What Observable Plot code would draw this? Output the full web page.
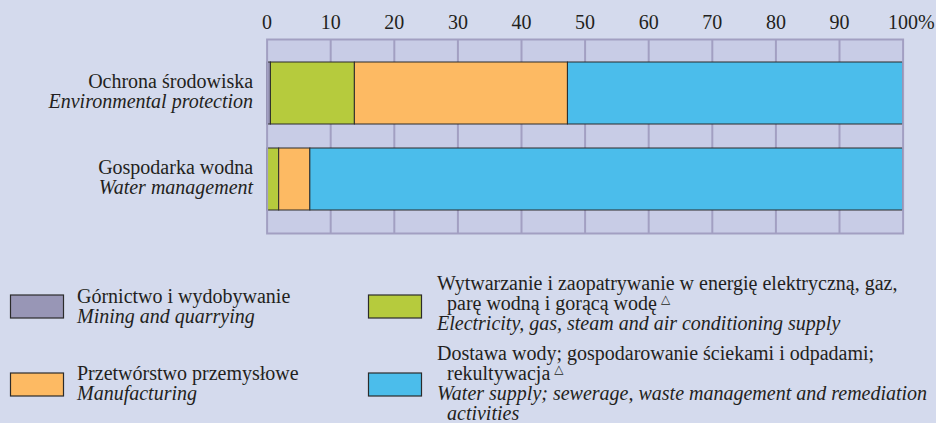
<!DOCTYPE html>
<html><head><meta charset="utf-8">
<script src="https://cdn.jsdelivr.net/npm/d3@7"></script>
<script src="https://cdn.jsdelivr.net/npm/@observablehq/plot@0.6"></script>
<style>
html,body{margin:0;padding:0;background:#d4daed;}
#chart{position:relative;width:936px;height:423px;overflow:hidden;}
#chart svg{display:block;font-family:"Liberation Serif",serif !important;}
#chart svg text{font-family:"Liberation Serif",serif !important;}
#chart svg tspan.tri{font-family:"DejaVu Sans",sans-serif !important;}
</style></head><body><div id="chart"></div>
<script>
// ---- data ----
const activities = ["Ochrona środowiska", "Gospodarka wodna"];
const activitiesEn = ["Environmental protection", "Water management"];
const sectors = ["Górnictwo i wydobywanie", "Wytwarzanie i zaopatrywanie w energię", "Przetwórstwo przemysłowe", "Dostawa wody"];
const miningValues = [0.6, 0];
const energyValues = [13.2, 1.9];
const manufacturingValues = [33.5, 4.9];
const waterValues = [52.7, 93.2];
const tickValues = [0, 10, 20, 30, 40, 50, 60, 70, 80, 90];
const tickLabels = ["0", "10", "20", "30", "40", "50", "60", "70", "80", "90"];
const lastTickValue = [100];
const lastTickLabel = ["100%"];
const gridValues = [10, 20, 30, 40, 50, 60, 70, 80, 90];
const sectorColors = ["#9896b6", "#b6cb3d", "#fdba63", "#4bbdeb"];
// legend texts
const legendPl = [
  ["Górnictwo i wydobywanie"],
  ["Wytwarzanie i zaopatrywanie w energię elektryczną, gaz,", "parę wodną i gorącą wodę"],
  ["Przetwórstwo przemysłowe"],
  ["Dostawa wody; gospodarowanie ściekami i odpadami;", "rekultywacja"]
];
const legendEn = [
  ["Mining and quarrying"],
  ["Electricity, gas, steam and air conditioning supply"],
  ["Manufacturing"],
  ["Water supply; sewerage, waste management and remediation", "activities"]
];
const legendMark = [false, true, false, true];

// ---- table ----
const seriesValues = [miningValues, energyValues, manufacturingValues, waterValues];
const rows = [];
activities.forEach((a, i) => sectors.forEach((s, j) => rows.push({activity: a, sector: s, value: seriesValues[j][i]})));

const font = "Liberation Serif";
const ink = "#231f20";
const gridColor = "#a29fc2";

const chart = Plot.plot({
  width: 936, height: 240,
  marginLeft: 266.6, marginRight: 33.4, marginTop: 39, marginBottom: 7,
  style: {background: "transparent", fontFamily: font, fontSize: "20px", color: ink, overflow: "visible"},
  x: {domain: [0, 100], axis: null},
  y: {domain: activities, axis: null, paddingInner: 0.28, paddingOuter: 0.26},
  color: {domain: sectors, range: sectorColors},
  marks: [
    Plot.frame({fill: "#c8cce6", stroke: "none"}),
    Plot.ruleX(gridValues, {stroke: gridColor, strokeWidth: 2}),
    Plot.barX(rows, Plot.stackX({x: "value", y: "activity", fill: "sector", order: sectors, stroke: "#2b2b2b", strokeWidth: 1})),
    Plot.frame({stroke: gridColor, strokeWidth: 2}),
    Plot.text(tickValues, {x: d => d, text: (d, i) => tickLabels[i], frameAnchor: "top", lineAnchor: "bottom", dy: -11, fill: ink, fontSize: 20}),
    Plot.text(lastTickLabel, {x: (d, i) => lastTickValue[i], text: d => d, frameAnchor: "top", lineAnchor: "bottom", textAnchor: "start", dx: -15, dy: -11, fill: ink, fontSize: 20}),
    Plot.text(activities, {y: d => d, text: d => d, frameAnchor: "left", textAnchor: "end", lineAnchor: "middle", dx: -14, dy: -12, fill: ink, fontSize: 20}),
    Plot.text(activitiesEn, {y: (d, i) => activities[i], text: d => d, frameAnchor: "left", textAnchor: "end", lineAnchor: "middle", dx: -14, dy: 8, fontStyle: "italic", fill: ink, fontSize: 20})
  ]
});
const root = document.getElementById("chart");
root.appendChild(chart);

// ---- legend ----
const top0 = 240;
const legend = d3.select(root).append("svg")
  .attr("width", 936).attr("height", 183)
  .style("position", "absolute").style("left", "0px").style("top", top0 + "px")
  .attr("font-family", font).attr("font-size", 20).attr("fill", ink);
const layout = [
  {bx: 10.5, by: 295, tx: 77, base: [303], baseEn: [323]},
  {bx: 368.5, by: 295, tx: 437, base: [290, 310], baseEn: [330]},
  {bx: 10.5, by: 373, tx: 77, base: [380], baseEn: [400]},
  {bx: 368.5, by: 373, tx: 437, base: [360, 380], baseEn: [400, 420]}
];
sectors.forEach((s, j) => {
  const L = layout[j];
  legend.append("rect").attr("x", L.bx).attr("y", L.by - top0).attr("width", 53).attr("height", 23)
    .attr("fill", sectorColors[j]).attr("stroke", "#2b2b2b").attr("stroke-width", 1.2);
  legendPl[j].forEach((line, k) => {
    const t = legend.append("text").attr("x", L.tx + (k > 0 ? 10 : 0)).attr("y", L.base[k] - top0).text(line);
    if (legendMark[j] && k === legendPl[j].length - 1) {
      t.append("tspan").attr("class", "tri").attr("dx", 4).attr("dy", -7).attr("font-size", 12).text("△");
    }
  });
  legendEn[j].forEach((line, k) => {
    legend.append("text").attr("x", L.tx + (k > 0 ? 10 : 0)).attr("y", L.baseEn[k] - top0)
      .attr("font-style", "italic").text(line);
  });
});
</script></body></html>
